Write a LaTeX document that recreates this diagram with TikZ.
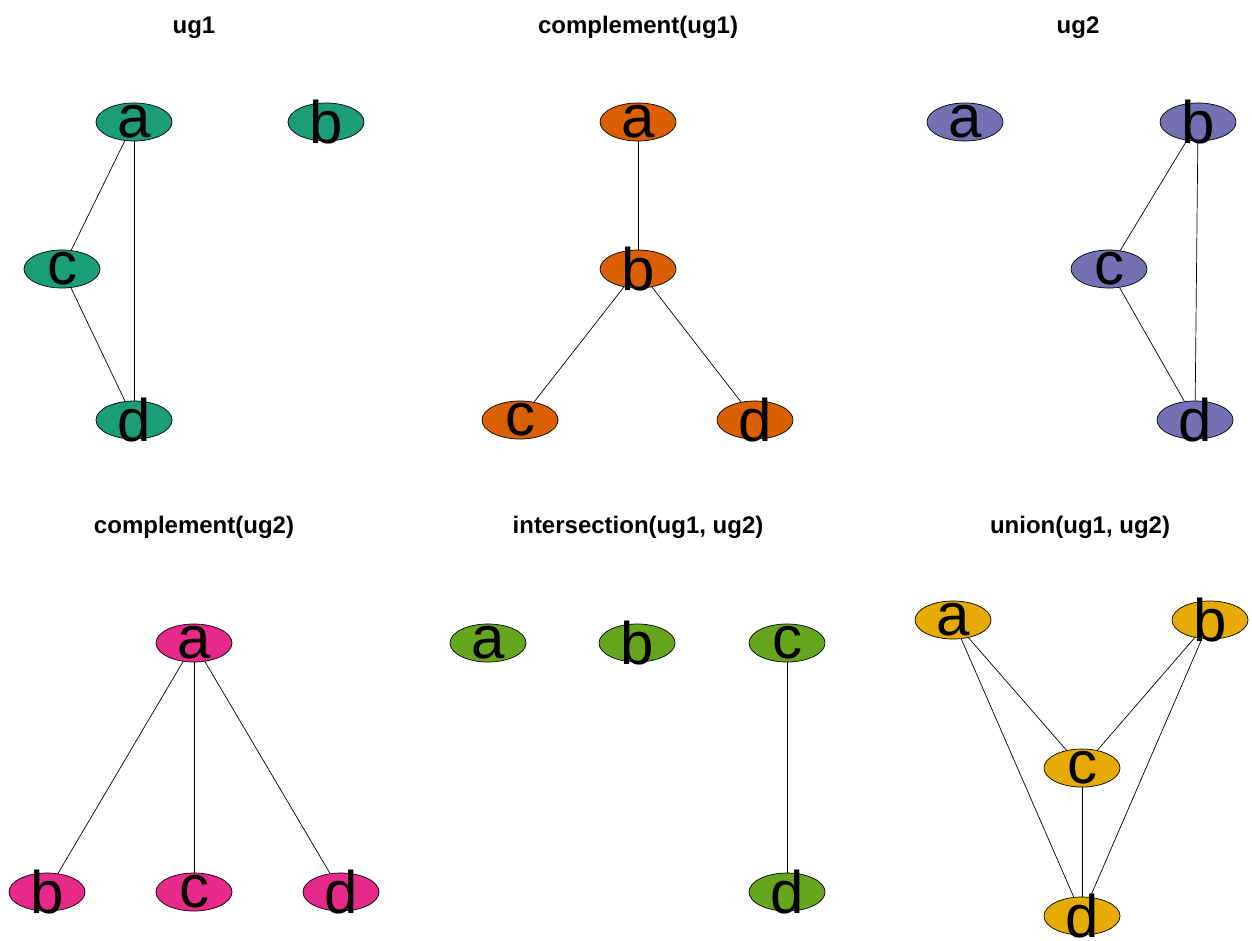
\documentclass[tikz,border=0pt]{standalone}
\usepackage{fontspec}
\setmainfont{Liberation Sans}
\usetikzlibrary{shapes.geometric}
\definecolor{cA}{HTML}{1B9E77}
\definecolor{cB}{HTML}{D95F02}
\definecolor{cC}{HTML}{7570B3}
\definecolor{cD}{HTML}{E7298A}
\definecolor{cE}{HTML}{66A61E}
\definecolor{cF}{HTML}{E6AB02}
\tikzset{
  vert/.style={ellipse, draw=black, line width=0.7pt, minimum width=76pt, minimum height=38pt, inner sep=0pt},
  lab/.style={inner sep=0pt, font=\fontsize{60}{60}\selectfont},
  ttl/.style={anchor=base, inner sep=0pt, font=\fontsize{24}{24}\selectfont\bfseries},
  edge/.style={draw=black, line width=0.7pt}
}
\begin{document}
\begin{tikzpicture}[x=1pt,y=-1pt]
\useasboundingbox (0,0) rectangle (1252,940);
% titles
\node[ttl] (t1) at (194,33) {ug1};
\node[ttl] (t2) at (638,33) {complement(ug1)};
\node[ttl] (t3) at (1078,33) {ug2};
\node[ttl] (t4) at (194,533) {complement(ug2)};
\node[ttl] (t5) at (638,533) {intersection(ug1, ug2)};
\node[ttl] (t6) at (1080,533) {union(ug1, ug2)};
% panel 1
\node[vert, fill=cA] (p1a) at (134,122) {};
\node[vert, fill=cA] (p1b) at (326,122) {};
\node[vert, fill=cA] (p1c) at (62,269) {};
\node[vert, fill=cA] (p1d) at (134,420) {};
\draw[edge] (p1a) -- (p1c);
\draw[edge] (p1a) -- (p1d);
\draw[edge] (p1c) -- (p1d);
% panel 2
\node[vert, fill=cB] (p2a) at (638,122) {};
\node[vert, fill=cB] (p2b) at (638,269) {};
\node[vert, fill=cB] (p2c) at (520,420) {};
\node[vert, fill=cB] (p2d) at (755,420) {};
\draw[edge] (p2a) -- (p2b);
\draw[edge] (p2b) -- (p2c);
\draw[edge] (p2b) -- (p2d);
% panel 3
\node[vert, fill=cC] (p3a) at (965,122) {};
\node[vert, fill=cC] (p3b) at (1198,122) {};
\node[vert, fill=cC] (p3c) at (1109,269) {};
\node[vert, fill=cC] (p3d) at (1195,420) {};
\draw[edge] (p3b) -- (p3c);
\draw[edge] (p3b) -- (p3d);
\draw[edge] (p3c) -- (p3d);
% panel 4
\node[vert, fill=cD] (p4a) at (194,643) {};
\node[vert, fill=cD] (p4b) at (47,892) {};
\node[vert, fill=cD] (p4c) at (194,892) {};
\node[vert, fill=cD] (p4d) at (341,892) {};
\draw[edge] (p4a) -- (p4b);
\draw[edge] (p4a) -- (p4c);
\draw[edge] (p4a) -- (p4d);
% panel 5
\node[vert, fill=cE] (p5a) at (488,643) {};
\node[vert, fill=cE] (p5b) at (637,643) {};
\node[vert, fill=cE] (p5c) at (787,643) {};
\node[vert, fill=cE] (p5d) at (787,892) {};
\draw[edge] (p5c) -- (p5d);
% panel 6
\node[vert, fill=cF] (p6a) at (953,620) {};
\node[vert, fill=cF] (p6b) at (1210,620) {};
\node[vert, fill=cF] (p6c) at (1082,768) {};
\node[vert, fill=cF] (p6d) at (1082,916) {};
\draw[edge] (p6a) -- (p6c);
\draw[edge] (p6a) -- (p6d);
\draw[edge] (p6b) -- (p6c);
\draw[edge] (p6b) -- (p6d);
\draw[edge] (p6c) -- (p6d);
% labels
\foreach \p in {1,...,6}{
  \foreach \v in {a,b,c,d}{
    \node[lab] (l\p\v) at (p\p\v) {\v};
  }
}
\end{tikzpicture}
\end{document}
